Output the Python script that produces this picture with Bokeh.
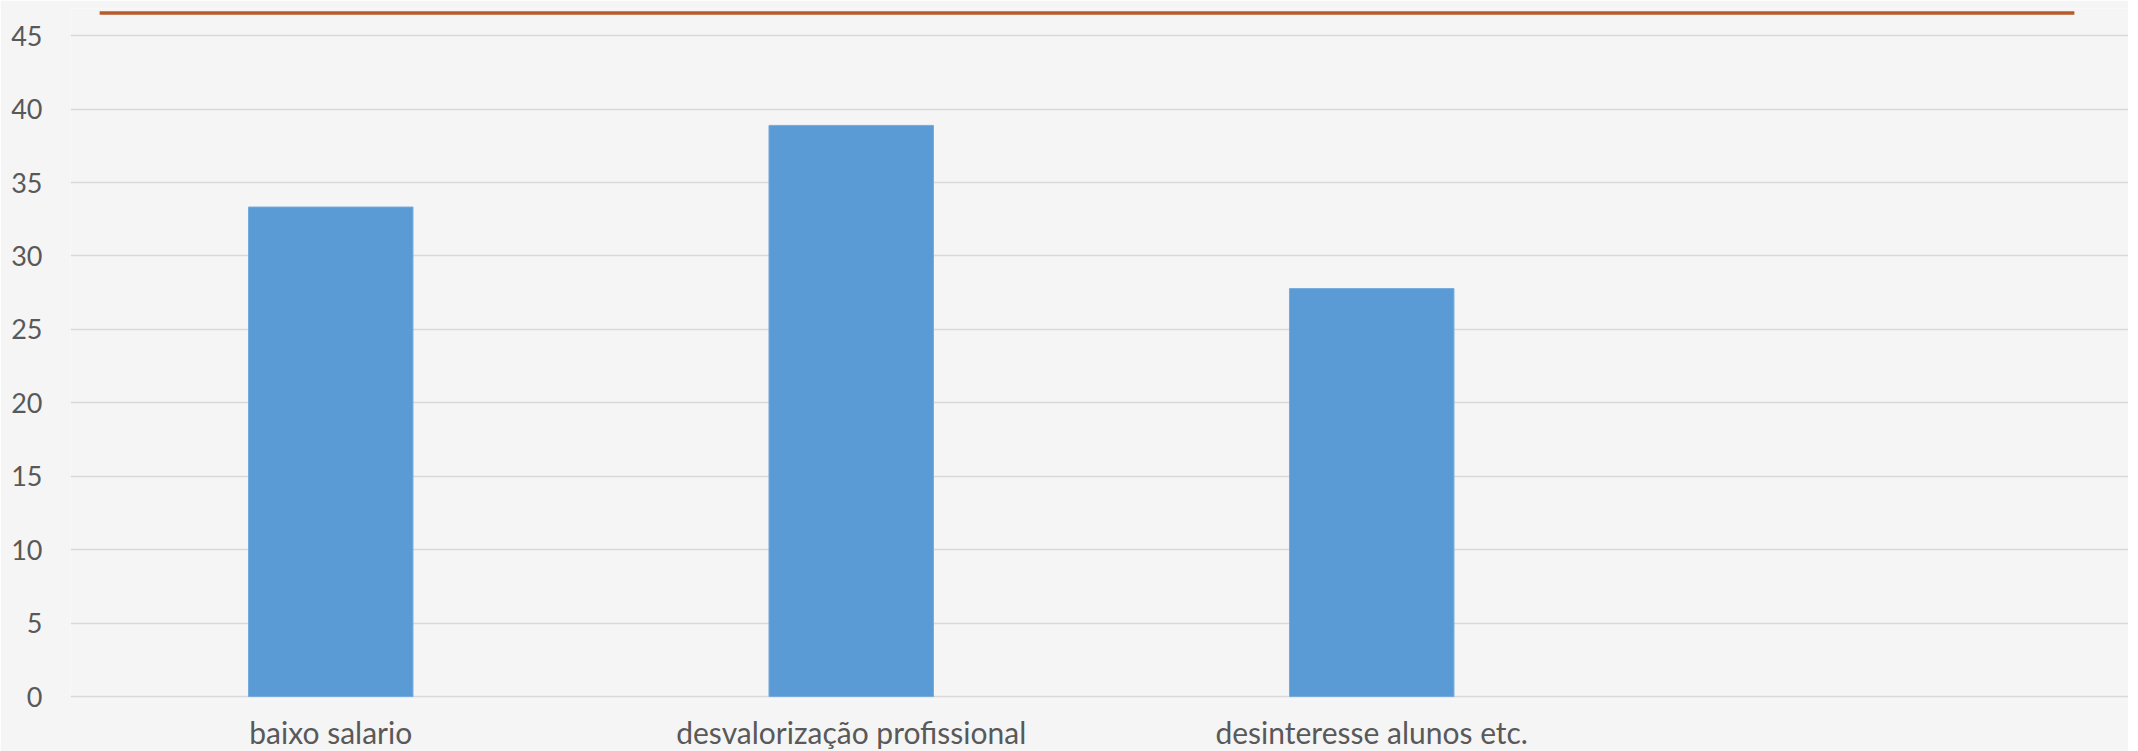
from bokeh.plotting import figure
from bokeh.models import Range1d, FixedTicker, ColumnDataSource
from bokeh.embed import file_html
from bokeh.resources import INLINE

# ---- data ----
categories = ["baixo salario", "desvalorização profissional", "desinteresse alunos etc."]
values = [33.33, 38.89, 27.78]
y_ticks = [0, 5, 10, 15, 20, 25, 30, 35, 40, 45]

# slide decoration (orange rule at top), in data units
rule_x = [-0.444, 3.35]
rule_y = [46.55, 46.55]

BG = "#F5F5F5"
TEXT = "#595959"

p = figure(
    frame_width=2058, frame_height=691,
    x_range=Range1d(-0.5, 3.454), y_range=Range1d(-0.2, 46.85),
    output_backend="svg", toolbar_location=None,
    min_border_left=70, min_border_right=0, min_border_top=8, min_border_bottom=0,
    background_fill_color=BG, border_fill_color=BG,
)
p.outline_line_color = None

xs = list(range(len(categories)))
src = ColumnDataSource(dict(x=xs, top=values, name=categories))
p.vbar(x="x", top="top", bottom=0, width=0.316, source=src,
       fill_color="#5B9BD5", line_color="#74ABDD", line_width=1)

p.line(rule_x, rule_y, line_color="#B95A2B", line_width=3.5)

# axes
p.xaxis.ticker = FixedTicker(ticks=xs)
p.xaxis.major_label_overrides = {i: c for i, c in enumerate(categories)}
p.xaxis.axis_line_color = None
p.xaxis.major_tick_line_color = None
p.xaxis.minor_tick_line_color = None
p.xaxis.major_label_text_font = "Lato"
p.xaxis.major_label_text_font_size = "30px"
p.xaxis.major_label_text_color = TEXT
p.xaxis.major_label_standoff = 8

p.yaxis.ticker = FixedTicker(ticks=y_ticks)
p.yaxis.axis_line_color = None
p.yaxis.major_tick_line_color = None
p.yaxis.minor_tick_line_color = None
p.yaxis.major_label_text_font = "Lato"
p.yaxis.major_label_text_font_size = "27px"
p.yaxis.major_label_text_color = TEXT
p.yaxis.major_label_standoff = 22

p.xgrid.grid_line_color = None
p.ygrid.grid_line_color = "#D9D9D9"
p.ygrid.grid_line_width = 1.5

open("out.html", "w").write(file_html(p, INLINE))
